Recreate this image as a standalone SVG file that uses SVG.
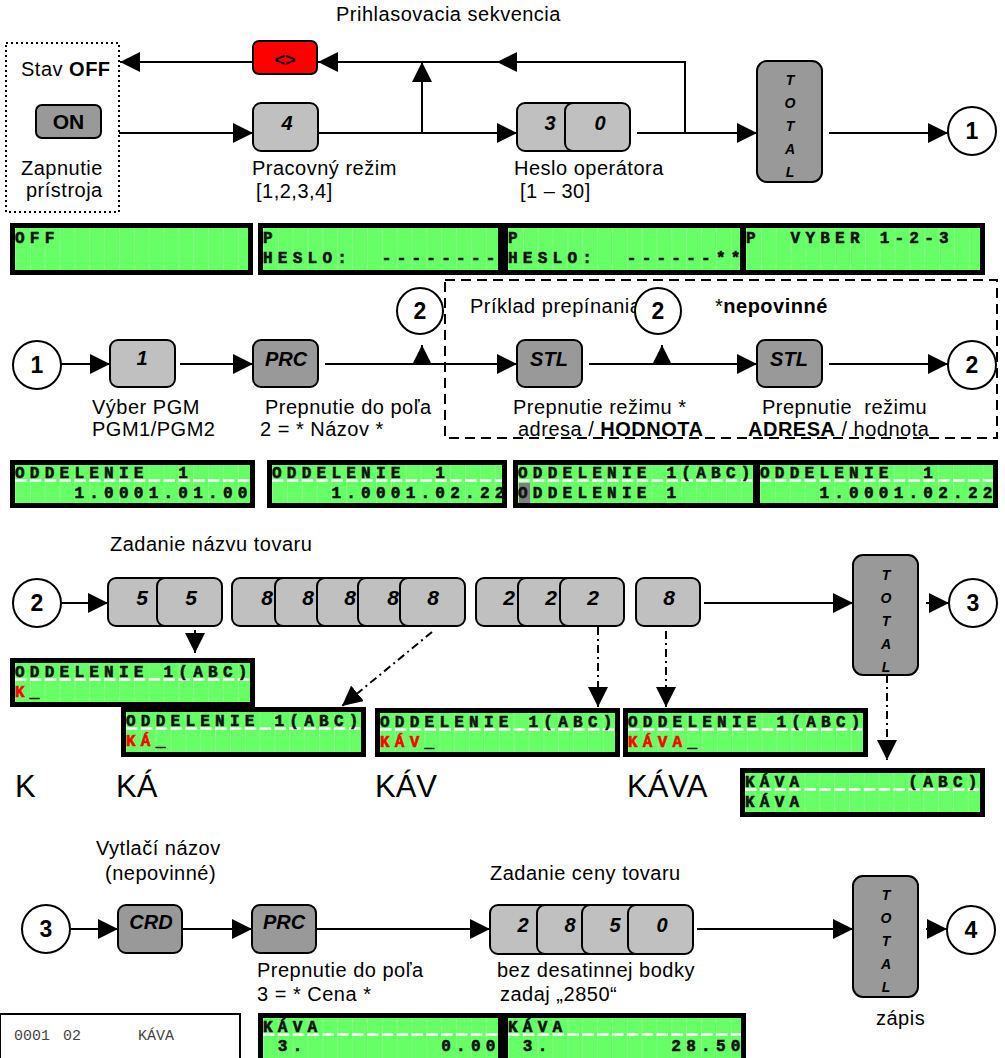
<svg xmlns="http://www.w3.org/2000/svg" width="1005" height="1058" viewBox="0 0 1005 1058">
<defs>
<style>
.lbl{font-family:"Liberation Sans",Arial,sans-serif;font-size:20px;letter-spacing:0.5px;fill:#000}
.b{font-weight:bold}
.big{font-family:"Liberation Sans",Arial,sans-serif;font-size:31px;fill:#000}
.kl{fill:#c0c0c0;stroke:#000;stroke-width:2}
.kd{fill:#999;stroke:#000;stroke-width:2}
.kr{fill:#ff0000;stroke:#000;stroke-width:2}
.kt{font-family:"Liberation Sans",Arial,sans-serif;font-size:20px;font-weight:bold;font-style:italic;text-anchor:middle;fill:#000}
.kn{font-family:"Liberation Sans",Arial,sans-serif;font-size:21px;font-weight:bold;text-anchor:middle;fill:#000}
.tt{font-family:"Liberation Sans",Arial,sans-serif;font-size:14px;font-weight:bold;font-style:italic;text-anchor:middle;fill:#000}
.cn{font-family:"Liberation Sans",Arial,sans-serif;font-size:23px;font-weight:bold;text-anchor:middle;fill:#000}
.cir{fill:#fff;stroke:#000;stroke-width:2}
.ln{fill:none;stroke:#000;stroke-width:2}
.dd{fill:none;stroke:#000;stroke-width:2;stroke-dasharray:8 4 2 4}
.lb{fill:#000}
.lg{fill:#66ff66}
.lt{font-family:"Liberation Mono","Courier New",monospace;font-size:16px;font-weight:bold;letter-spacing:5.25px;fill:#111;stroke:#111;stroke-width:0.6px;white-space:pre}
.red{fill:#ff0000;stroke:#ff0000}
.ul{stroke:#fff;stroke-width:2.5;stroke-dasharray:11.5 3.35}
.rc{font-family:"Liberation Mono","Courier New",monospace;font-size:15px;fill:#444}
</style>
<marker id="ah" markerUnits="userSpaceOnUse" markerWidth="20" markerHeight="20" viewBox="0 0 20 20" refX="20" refY="10" orient="auto">
<path d="M0,0 L20,10 L0,20 z" fill="#000"/>
</marker>
<pattern id="grid" patternUnits="userSpaceOnUse" x="5" y="0" width="14.85" height="10">
<rect x="0" y="0" width="1" height="10" fill="#fff" fill-opacity="0.2"/>
</pattern>
</defs>
<rect width="1005" height="1058" fill="#fff"/>

<!-- texts / labels -->
<g id="labels">
<text class="lbl" x="336" y="21">Prihlasovacia sekvencia</text>
<text class="lbl" x="21" y="76">Stav <tspan class="b">OFF</tspan></text>
<text class="lbl" x="21" y="175">Zapnutie</text>
<text class="lbl" x="26" y="197">prístroja</text>
<text class="lbl" x="252" y="175">Pracovný režim</text>
<text class="lbl" x="256" y="198">[1,2,3,4]</text>
<text class="lbl" x="514" y="175">Heslo operátora</text>
<text class="lbl" x="520" y="198">[1 – 30]</text>

<text class="lbl" x="470" y="313">Príklad prepínania</text>
<text class="lbl" x="715" y="313">*<tspan class="b">nepovinné</tspan></text>
<text class="lbl" x="92" y="414">Výber PGM</text>
<text class="lbl" x="92" y="436">PGM1/PGM2</text>
<text class="lbl" x="265" y="414">Prepnutie do poľa</text>
<text class="lbl" x="260" y="436">2 = * Názov *</text>
<text class="lbl" x="513" y="414">Prepnutie režimu *</text>
<text class="lbl" x="518" y="436">adresa / <tspan class="b">HODNOTA</tspan></text>
<text class="lbl" x="762" y="414" style="white-space:pre">Prepnutie  režimu</text>
<text class="lbl" x="748" y="436"><tspan class="b">ADRESA</tspan> / hodnota</text>

<text class="lbl" x="110" y="551">Zadanie názvu tovaru</text>
<text class="big" x="15" y="797">K</text>
<text class="big" x="116" y="797">KÁ</text>
<text class="big" x="375" y="797">KÁV</text>
<text class="big" x="627" y="797">KÁVA</text>

<text class="lbl" x="96" y="855">Vytlačí názov</text>
<text class="lbl" x="105" y="880">(nepovinné)</text>
<text class="lbl" x="490" y="880">Zadanie ceny tovaru</text>
<text class="lbl" x="257" y="977">Prepnutie do poľa</text>
<text class="lbl" x="257" y="1001">3 = * Cena *</text>
<text class="lbl" x="497" y="977">bez desatinnej bodky</text>
<text class="lbl" x="500" y="1001">zadaj „2850“</text>
<text class="lbl" x="876" y="1025">zápis</text>
</g>

<!-- frames -->
<g id="frames">
<rect x="6" y="43" width="113" height="169" fill="none" stroke="#000" stroke-width="2" stroke-dasharray="2 3"/>
<rect x="445" y="280" width="552" height="158" fill="none" stroke="#000" stroke-width="2" stroke-dasharray="10 6"/>
</g>

<!-- connectors -->
<g id="connectors">
<path class="ln" d="M119,133 H253" marker-end="url(#ah)"/>
<path class="ln" d="M318,133 H517" marker-end="url(#ah)"/>
<path class="ln" d="M422,133 V62" marker-end="url(#ah)"/>
<path class="ln" d="M637,133 H757" marker-end="url(#ah)"/>
<path class="ln" d="M685,133 V62 H497" marker-end="url(#ah)"/>
<path class="ln" d="M497,62 H318" marker-end="url(#ah)"/>
<path class="ln" d="M253,62 H120" marker-end="url(#ah)"/>
<path class="ln" d="M829,133 H948" marker-end="url(#ah)"/>

<path class="ln" d="M61,364 H110" marker-end="url(#ah)"/>
<path class="ln" d="M180,364 H253" marker-end="url(#ah)"/>
<path class="ln" d="M325,364 H517" marker-end="url(#ah)"/>
<path class="ln" d="M422,364 V345" marker-end="url(#ah)"/>
<path class="ln" d="M589,364 H757" marker-end="url(#ah)"/>
<path class="ln" d="M662,364 V345" marker-end="url(#ah)"/>
<path class="ln" d="M829,364 H948" marker-end="url(#ah)"/>

<path class="ln" d="M61,603 H108" marker-end="url(#ah)"/>
<path class="ln" d="M704,603 H853" marker-end="url(#ah)"/>
<path class="ln" d="M926,603 H949" marker-end="url(#ah)"/>
<path class="ln" d="M195,630 V653" marker-end="url(#ah)"/>
<path class="dd" d="M432,632 L342,706" marker-end="url(#ah)"/>
<path class="dd" d="M598,627 V707" marker-end="url(#ah)"/>
<path class="dd" d="M666,631 V707" marker-end="url(#ah)"/>
<path class="dd" d="M887,675 V760" marker-end="url(#ah)"/>

<path class="ln" d="M70,929 H118" marker-end="url(#ah)"/>
<path class="ln" d="M182,929 H252" marker-end="url(#ah)"/>
<path class="ln" d="M316,929 H490" marker-end="url(#ah)"/>
<path class="ln" d="M697,929 H853" marker-end="url(#ah)"/>
<path class="ln" d="M926,929 H947" marker-end="url(#ah)"/>
</g>

<!-- keys row 1 -->
<g id="key-on"><rect class="kd" x="36" y="105" width="65" height="33" rx="6"/><text class="kn" x="68.5" y="129">ON</text></g>
<g id="key-clr"><rect class="kr" x="253" y="41" width="64" height="33" rx="6"/><text class="kn" x="285" y="66" style="font-size:18px">&lt;&gt;</text></g>
<g id="key-4"><rect class="kl" x="253" y="103" width="65" height="48" rx="8"/><text class="kt" x="287" y="130">4</text></g>
<g id="key-30"><rect class="kl" x="517" y="103" width="65" height="48" rx="8"/><text class="kt" x="550" y="130">3</text><rect class="kl" x="565" y="103" width="65" height="48" rx="8"/><text class="kt" x="600" y="130">0</text></g>
<g id="key-total1"><rect class="kd" x="757" y="61" width="65" height="121" rx="10"/>
<text class="tt" x="790" y="85">T</text><text class="tt" x="790" y="108">O</text><text class="tt" x="790" y="131">T</text><text class="tt" x="790" y="154">A</text><text class="tt" x="790" y="177">L</text></g>
<g id="c1a"><circle class="cir" cx="972" cy="131" r="24"/><text class="cn" x="972" y="139">1</text></g>

<!-- row 2 -->
<g id="c1b"><circle class="cir" cx="37" cy="365" r="24"/><text class="cn" x="37" y="373">1</text></g>
<g id="key-1"><rect class="kl" x="110" y="340" width="65" height="47" rx="8"/><text class="kt" x="142" y="365">1</text></g>
<g id="key-prc1"><rect class="kd" x="253" y="340" width="65" height="47" rx="8"/><text class="kt" x="286" y="366">PRC</text></g>
<g id="key-stl1"><rect class="kd" x="517" y="340" width="65" height="47" rx="8"/><text class="kt" x="549" y="366">STL</text></g>
<g id="key-stl2"><rect class="kd" x="757" y="340" width="65" height="47" rx="8"/><text class="kt" x="789" y="366">STL</text></g>
<g id="c2a"><circle class="cir" cx="420" cy="311" r="23"/><text class="cn" x="420" y="319">2</text></g>
<g id="c2b"><circle class="cir" cx="658" cy="311" r="23"/><text class="cn" x="658" y="319">2</text></g>
<g id="c2c"><circle class="cir" cx="972" cy="365" r="24"/><text class="cn" x="972" y="373">2</text></g>

<!-- section 3 -->
<g id="c2d"><circle class="cir" cx="37" cy="603" r="24"/><text class="cn" x="37" y="611">2</text></g>
<g id="key-55">
<rect class="kl" x="108" y="578" width="65" height="48" rx="8"/><text class="kt" x="142" y="605" style="font-size:21px">5</text>
<rect class="kl" x="157" y="578" width="65" height="48" rx="8"/><text class="kt" x="191" y="605" style="font-size:21px">5</text>
</g>
<g id="key-88888">
<rect class="kl" x="232" y="578" width="65" height="48" rx="8"/><text class="kt" x="267" y="605" style="font-size:21px">8</text>
<rect class="kl" x="275" y="578" width="65" height="48" rx="8"/><text class="kt" x="308" y="605" style="font-size:21px">8</text>
<rect class="kl" x="317" y="578" width="65" height="48" rx="8"/><text class="kt" x="350" y="605" style="font-size:21px">8</text>
<rect class="kl" x="358" y="578" width="65" height="48" rx="8"/><text class="kt" x="393" y="605" style="font-size:21px">8</text>
<rect class="kl" x="400" y="578" width="65" height="48" rx="8"/><text class="kt" x="433" y="605" style="font-size:21px">8</text>
</g>
<g id="key-222">
<rect class="kl" x="476" y="578" width="64" height="48" rx="8"/><text class="kt" x="509" y="605" style="font-size:21px">2</text>
<rect class="kl" x="518" y="578" width="64" height="48" rx="8"/><text class="kt" x="551" y="605" style="font-size:21px">2</text>
<rect class="kl" x="560" y="578" width="64" height="48" rx="8"/><text class="kt" x="593" y="605" style="font-size:21px">2</text>
</g>
<g id="key-8"><rect class="kl" x="636" y="578" width="64" height="48" rx="8"/><text class="kt" x="669" y="605" style="font-size:21px">8</text></g>
<g id="key-total2"><rect class="kd" x="853" y="555" width="65" height="120" rx="10"/>
<text class="tt" x="886" y="580">T</text><text class="tt" x="886" y="603">O</text><text class="tt" x="886" y="626">T</text><text class="tt" x="886" y="649">A</text><text class="tt" x="886" y="672">L</text></g>
<g id="c3a"><circle class="cir" cx="973" cy="603" r="24"/><text class="cn" x="973" y="611">3</text></g>

<!-- section 4 -->
<g id="c3b"><circle class="cir" cx="46" cy="929" r="24"/><text class="cn" x="46" y="937">3</text></g>
<g id="key-crd"><rect class="kd" x="118" y="905" width="64" height="48" rx="8"/><text class="kt" x="151" y="929">CRD</text></g>
<g id="key-prc2"><rect class="kd" x="252" y="905" width="64" height="48" rx="8"/><text class="kt" x="284" y="929">PRC</text></g>
<g id="key-2850">
<rect class="kl" x="490" y="905" width="65" height="49" rx="8"/><text class="kt" x="523" y="932">2</text>
<rect class="kl" x="537" y="905" width="65" height="49" rx="8"/><text class="kt" x="570" y="932">8</text>
<rect class="kl" x="582" y="905" width="65" height="49" rx="8"/><text class="kt" x="615" y="932">5</text>
<rect class="kl" x="628" y="905" width="65" height="49" rx="8"/><text class="kt" x="662" y="932">0</text>
</g>
<g id="key-total3"><rect class="kd" x="853" y="876" width="65" height="121" rx="10"/>
<text class="tt" x="886" y="900">T</text><text class="tt" x="886" y="923">O</text><text class="tt" x="886" y="946">T</text><text class="tt" x="886" y="969">A</text><text class="tt" x="886" y="992">L</text></g>
<g id="c4"><circle class="cir" cx="971" cy="930" r="24"/><text class="cn" x="971" y="938">4</text></g>

<!-- LCDs row 1 -->
<g id="lcd-off" transform="translate(10,223)">
<rect class="lb" width="243" height="52"/><rect class="lg" x="5" y="5" width="233" height="42"/><rect fill="url(#grid)" x="5" y="5" width="233" height="42"/>
<text class="lt" x="5" y="20">OFF</text></g>
<g id="lcd-heslo1" transform="translate(258,223)">
<rect class="lb" width="245" height="52"/><rect class="lg" x="5" y="5" width="235" height="42"/><rect fill="url(#grid)" x="5" y="5" width="235" height="42"/>
<text class="lt" x="5" y="20">P</text><text class="lt" x="5" y="40">HESLO:  --------</text></g>
<g id="lcd-heslo2" transform="translate(503,223)">
<rect class="lb" width="242" height="52"/><rect class="lg" x="5" y="5" width="232" height="42"/><rect fill="url(#grid)" x="5" y="5" width="232" height="42"/>
<text class="lt" x="5" y="20">P</text><text class="lt" x="5" y="40">HESLO:  ------**</text></g>
<g id="lcd-vyber" transform="translate(741,223)">
<rect class="lb" width="244" height="52"/><rect class="lg" x="5" y="5" width="234" height="42"/><rect fill="url(#grid)" x="5" y="5" width="234" height="42"/>
<text class="lt" x="5" y="20">P  VYBER 1-2-3</text></g>

<!-- LCDs row 2 -->
<g id="lcd-odd1" transform="translate(10,460)">
<rect class="lb" width="245" height="48"/><rect class="lg" x="5" y="5" width="235" height="38"/><rect fill="url(#grid)" x="5" y="5" width="235" height="38"/>
<line class="ul" x1="5" y1="20.5" x2="240" y2="20.5"/>
<text class="lt" x="5" y="18">ODDELENIE  1</text><text class="lt" x="5" y="38">    1.0001.01.00</text></g>
<g id="lcd-odd2" transform="translate(267,460)">
<rect class="lb" width="240" height="48"/><rect class="lg" x="5" y="5" width="230" height="38"/><rect fill="url(#grid)" x="5" y="5" width="230" height="38"/>
<line class="ul" x1="5" y1="20.5" x2="235" y2="20.5"/>
<text class="lt" x="5" y="18">ODDELENIE  1</text><text class="lt" x="5" y="38">    1.0001.02.22</text></g>
<g id="lcd-odd3" transform="translate(513,460)">
<rect class="lb" width="245" height="48"/><rect class="lg" x="5" y="5" width="235" height="38"/><rect fill="url(#grid)" x="5" y="5" width="235" height="38"/>
<line class="ul" x1="5" y1="20.5" x2="240" y2="20.5"/>
<rect x="6" y="23" width="11" height="20" fill="#7f7f7f"/>
<text class="lt" x="5" y="18">ODDELENIE 1(ABC)</text><text class="lt" x="5" y="38">ODDELENIE 1</text></g>
<g id="lcd-odd4" transform="translate(755,460)">
<rect class="lb" width="243" height="48"/><rect class="lg" x="5" y="5" width="233" height="38"/><rect fill="url(#grid)" x="5" y="5" width="233" height="38"/>
<line class="ul" x1="5" y1="20.5" x2="238" y2="20.5"/>
<text class="lt" x="5" y="18">ODDELENIE  1</text><text class="lt" x="5" y="38">    1.0001.02.22</text></g>

<!-- LCDs section 3 -->
<g id="lcd-k" transform="translate(10,658)">
<rect class="lb" width="245" height="49"/><rect class="lg" x="5" y="5" width="235" height="39"/><rect fill="url(#grid)" x="5" y="5" width="235" height="39"/>
<line class="ul" x1="5" y1="21.5" x2="240" y2="21.5"/>
<text class="lt" x="5" y="19">ODDELENIE 1(ABC)</text><text class="lt" x="5" y="39"><tspan class="red">K</tspan>_</text></g>
<g id="lcd-ka" transform="translate(121,707)">
<rect class="lb" width="245" height="50"/><rect class="lg" x="5" y="5" width="235" height="40"/><rect fill="url(#grid)" x="5" y="5" width="235" height="40"/>
<line class="ul" x1="5" y1="21.5" x2="240" y2="21.5"/>
<text class="lt" x="5" y="19">ODDELENIE 1(ABC)</text><text class="lt" x="5" y="39"><tspan class="red">KÁ</tspan>_</text></g>
<g id="lcd-kav" transform="translate(375,708)">
<rect class="lb" width="245" height="49"/><rect class="lg" x="5" y="5" width="235" height="39"/><rect fill="url(#grid)" x="5" y="5" width="235" height="39"/>
<line class="ul" x1="5" y1="21.5" x2="240" y2="21.5"/>
<text class="lt" x="5" y="19">ODDELENIE 1(ABC)</text><text class="lt" x="5" y="39"><tspan class="red">KÁV</tspan>_</text></g>
<g id="lcd-kava" transform="translate(623,708)">
<rect class="lb" width="245" height="49"/><rect class="lg" x="5" y="5" width="235" height="39"/><rect fill="url(#grid)" x="5" y="5" width="235" height="39"/>
<line class="ul" x1="5" y1="21.5" x2="240" y2="21.5"/>
<text class="lt" x="5" y="19">ODDELENIE 1(ABC)</text><text class="lt" x="5" y="39"><tspan class="red">KÁVA</tspan>_</text></g>
<g id="lcd-kava2" transform="translate(740,768)">
<rect class="lb" width="245" height="49"/><rect class="lg" x="5" y="5" width="235" height="39"/><rect fill="url(#grid)" x="5" y="5" width="235" height="39"/>
<line class="ul" x1="5" y1="21.5" x2="240" y2="21.5"/>
<text class="lt" x="5" y="19">KÁVA       (ABC)</text><text class="lt" x="5" y="39">KÁVA</text></g>

<!-- bottom -->
<g id="receipt">
<rect x="0" y="1014" width="240" height="50" fill="#fff" stroke="#000" stroke-width="2"/>
<text class="rc" x="14" y="1040">0001</text><text class="rc" x="63" y="1040">02</text><text class="rc" x="138" y="1040">KÁVA</text>
</g>
<g id="lcd-cena1" transform="translate(258,1013)">
<rect class="lb" width="245" height="50"/><rect class="lg" x="5" y="5" width="235" height="45"/><rect fill="url(#grid)" x="5" y="5" width="235" height="45"/>
<line class="ul" x1="5" y1="21.5" x2="240" y2="21.5"/>
<text class="lt" x="5" y="19">KÁVA</text><text class="lt" x="5" y="38"> 3.         0.00</text></g>
<g id="lcd-cena2" transform="translate(503,1013)">
<rect class="lb" width="243" height="50"/><rect class="lg" x="5" y="5" width="233" height="45"/><rect fill="url(#grid)" x="5" y="5" width="233" height="45"/>
<line class="ul" x1="5" y1="21.5" x2="238" y2="21.5"/>
<text class="lt" x="5" y="19">KÁVA</text><text class="lt" x="5" y="38"> 3.        28.50</text></g>
</svg>
